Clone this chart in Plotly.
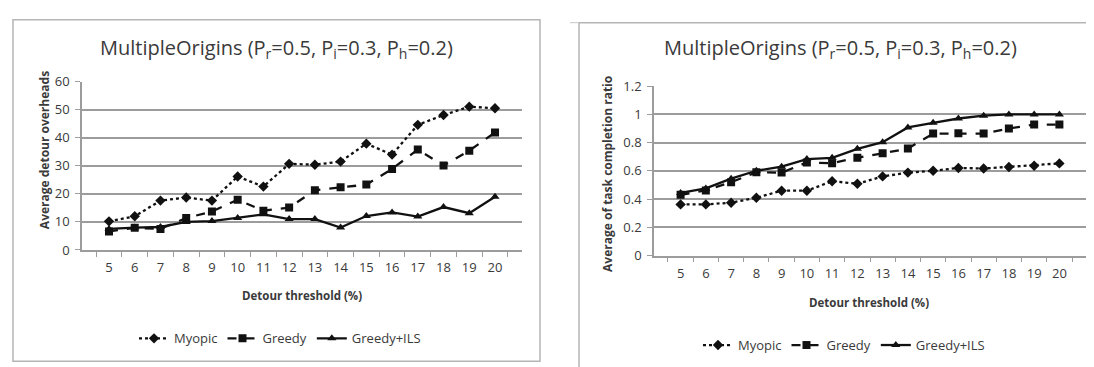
import plotly.graph_objects as go

W, H = 1094, 367

thresholds = ["5", "6", "7", "8", "9", "10", "11", "12", "13", "14", "15", "16", "17", "18", "19", "20"]

# Left chart: Average detour overheads
overhead_myopic = [10.2, 12.0, 17.6, 18.7, 17.6, 26.2, 22.6, 30.7, 30.4, 31.5, 37.9, 34.0, 44.6, 48.1, 51.1, 50.5]
overhead_greedy = [6.6, 7.9, 7.5, 11.4, 13.7, 17.9, 14.0, 15.1, 21.3, 22.4, 23.3, 28.9, 35.8, 30.1, 35.4, 41.9]
overhead_ils = [7.5, 8.0, 8.2, 10.0, 10.3, 11.4, 12.7, 11.0, 11.0, 8.0, 12.1, 13.4, 11.9, 15.3, 13.1, 19.0]

# Right chart: Average task completion ratio
ratio_myopic = [0.363, 0.363, 0.375, 0.41, 0.46, 0.46, 0.527, 0.509, 0.561, 0.588, 0.601, 0.621, 0.617, 0.628, 0.637, 0.653]
ratio_greedy = [0.431, 0.462, 0.52, 0.59, 0.588, 0.66, 0.655, 0.693, 0.725, 0.758, 0.864, 0.866, 0.864, 0.9, 0.928, 0.928]
ratio_ils = [0.444, 0.476, 0.545, 0.601, 0.63, 0.684, 0.693, 0.756, 0.803, 0.908, 0.94, 0.971, 0.991, 1.0, 1.0, 1.0]

series_names = ["Myopic", "Greedy", "Greedy+ILS"]
title_text = "MultipleOrigins (P<sub>r</sub>=0.5, P<sub>i</sub>=0.3, P<sub>h</sub>=0.2)"
xtitle_text = "Detour threshold (%)"
ytitle_left = "Average detour overheads"
ytitle_right = "Average of task completion ratio"

FONT = "Open Sans"
TXT = "#3a3a3a"
GRID = "#9c9c9c"
INK = "#111111"

styles = [
    dict(dash="dot", symbol="diamond"),
    dict(dash="dash", symbol="square"),
    dict(dash="solid", symbol="triangle-up"),
]


def px(x):
    return x / W


def py(y):
    return 1 - y / H


fig = go.Figure()

for name, vals, st in zip(series_names, [overhead_myopic, overhead_greedy, overhead_ils], styles):
    fig.add_trace(go.Scatter(
        x=thresholds, y=vals, name=name, mode="lines+markers",
        line=dict(color=INK, width=2.3, dash=st["dash"]),
        marker=dict(symbol=st["symbol"], size=8, color=INK),
        xaxis="x", yaxis="y", legend="legend",
    ))

for name, vals, st in zip(series_names, [ratio_myopic, ratio_greedy, ratio_ils], styles):
    fig.add_trace(go.Scatter(
        x=thresholds, y=vals, name=name, mode="lines+markers",
        line=dict(color=INK, width=2.3, dash=st["dash"]),
        marker=dict(symbol=st["symbol"], size=8, color=INK),
        xaxis="x2", yaxis="y2", legend="legend2",
    ))

xcommon = dict(
    type="category", showline=True, linecolor=GRID, linewidth=1.5,
    ticks="outside", ticklen=5, tickcolor=GRID, tickwidth=1.2,
    tickson="boundaries", showgrid=False, zeroline=False,
    tickfont=dict(family=FONT, size=13, color=TXT), ticklabelstandoff=5,
)
ycommon = dict(
    showline=True, linecolor=GRID, linewidth=1.5,
    ticks="outside", ticklen=5, tickcolor=GRID, tickwidth=1.2,
    showgrid=True, gridcolor=GRID, gridwidth=1.5, zeroline=False,
    tickfont=dict(family=FONT, size=13, color=TXT), ticklabelstandoff=3,
)

legend_common = dict(
    orientation="h", xanchor="center", yanchor="middle",
    font=dict(family=FONT, size=13, color=TXT), bgcolor="rgba(0,0,0,0)",
    itemwidth=30, tracegroupgap=0,
)

fig.update_layout(
    width=W, height=H,
    margin=dict(l=0, r=0, t=0, b=0),
    paper_bgcolor="white", plot_bgcolor="white",
    xaxis=dict(domain=[px(74), px(514)], anchor="y", **xcommon),
    yaxis=dict(domain=[py(245), py(68)], anchor="x", range=[0, 60], dtick=10, **ycommon),
    xaxis2=dict(domain=[px(646), px(1078)], anchor="y2", **xcommon),
    yaxis2=dict(domain=[py(251), py(72.7)], anchor="x2", range=[0, 1.2], dtick=0.2, **ycommon),
    legend=dict(x=px(272), y=py(338), **legend_common),
    legend2=dict(x=px(836), y=py(345), **legend_common),
    showlegend=True,
)

annotations = [
    dict(text=title_text, x=px(268), y=py(33), font=dict(family=FONT, size=20, color=TXT)),
    dict(text=title_text, x=px(832), y=py(33), font=dict(family=FONT, size=20, color=TXT)),
    dict(text="<b>" + xtitle_text + "</b>", x=px(294), y=py(293), font=dict(family=FONT, size=11.5, color=TXT)),
    dict(text="<b>" + xtitle_text + "</b>", x=px(861), y=py(300), font=dict(family=FONT, size=11.5, color=TXT)),
    dict(text="<b>" + ytitle_left + "</b>", x=px(36), y=py(140), textangle=-90, font=dict(family=FONT, size=12, color=TXT)),
    dict(text="<b>" + ytitle_right + "</b>", x=px(600), y=py(165), textangle=-90, font=dict(family=FONT, size=12, color=TXT)),
]
for a in annotations:
    a.update(xref="paper", yref="paper", showarrow=False, xanchor="center", yanchor="middle")
fig.update_layout(annotations=annotations)

fig.update_layout(shapes=[
    dict(type="rect", xref="paper", yref="paper", x0=px(5), x1=px(532), y0=py(362), y1=py(3),
         line=dict(color="#b5b5b5", width=1.5)),
    dict(type="rect", xref="paper", yref="paper", x0=px(571), x1=px(1100), y0=py(372), y1=py(6),
         line=dict(color="#b5b5b5", width=1.5)),
    dict(type="line", xref="paper", yref="paper", x0=px(562), x1=px(571), y0=py(6), y1=py(6),
         line=dict(color="#c8c8c8", width=1)),
])

fig.write_html("out.html")
